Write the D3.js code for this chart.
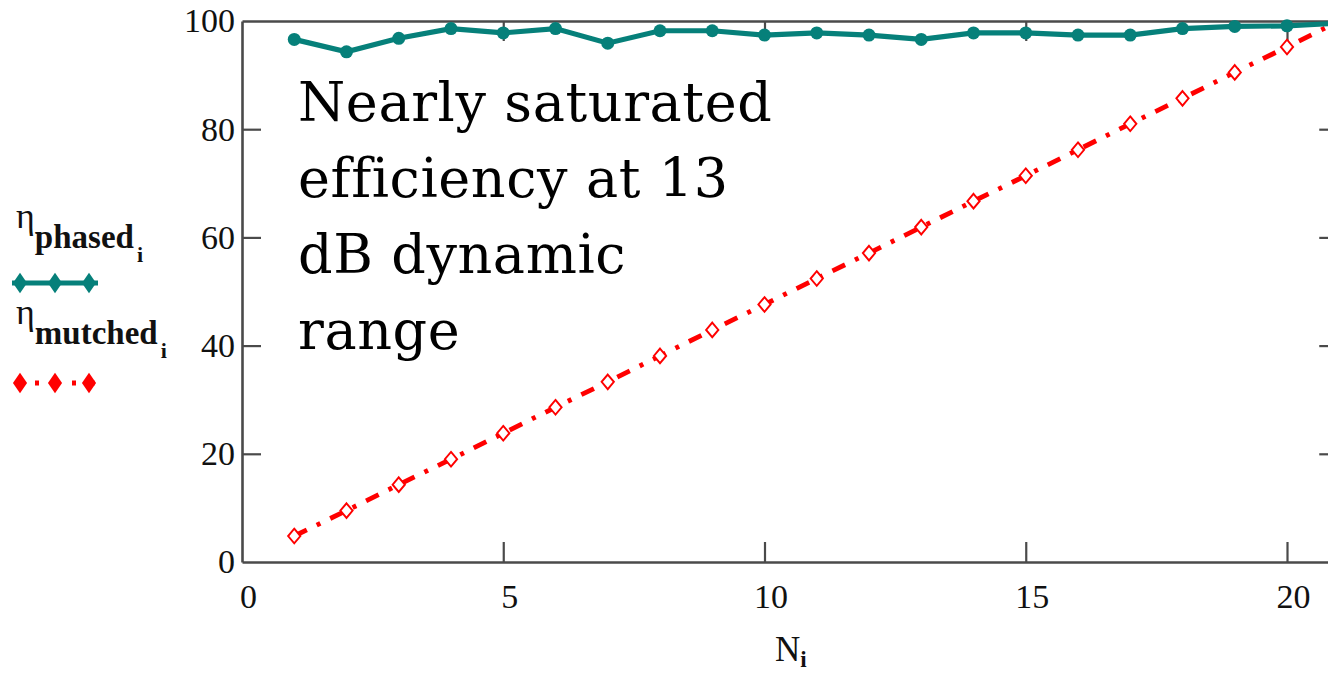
<!DOCTYPE html>
<html>
<head>
<meta charset="utf-8">
<script src="https://cdn.jsdelivr.net/npm/d3@7"></script>
<style>
  html, body { margin: 0; padding: 0; background: #fff; overflow: hidden; }
  svg { display: block; }
</style>
</head>
<body>
<svg id="chart" width="1328" height="674"></svg>
<script>
// Number of elements N in the array
const nValues = [1, 2, 3, 4, 5, 6, 7, 8, 9, 10, 11, 12, 13, 14, 15, 16, 17, 18, 19, 20, 21];
// Efficiency (%) with phased combining
const etaPhased = [96.6, 94.3, 96.8, 98.6, 97.8, 98.6, 95.9, 98.2, 98.2, 97.4, 97.8, 97.4, 96.6, 97.8, 97.8, 97.4, 97.4, 98.6, 99.0, 99.1, 99.6];
// Efficiency (%) with matched combining
const etaMutched = [4.8, 9.5, 14.3, 19.0, 23.8, 28.6, 33.3, 38.1, 42.9, 47.6, 52.4, 57.1, 61.9, 66.7, 71.4, 76.2, 81.0, 85.7, 90.5, 95.2, 100.0];
// Axis ticks
const xTicks = [0, 5, 10, 15, 20];
const yTicks = [0, 20, 40, 60, 80, 100];
// Annotation lines
const noteLines = ["Nearly saturated", "efficiency at 13", "dB dynamic", "range"];

const svg = d3.select("#chart");
const TEAL = "#06807a";
const RED = "#ff0000";
const AXIS = "#4a4a4a";

const plotL = 242, plotR = 242 + 21 * 52.25, plotT = 21, plotB = 562;
const x = d3.scaleLinear().domain([0, 21]).range([plotL, plotR]);
const y = d3.scaleLinear().domain([0, 100]).range([plotB, plotT]);

// ---- frame and axes ----
function styleAxis(g) {
  g.selectAll("path.domain").attr("stroke", AXIS).attr("stroke-width", 2.6);
  g.selectAll(".tick line").attr("stroke", AXIS).attr("stroke-width", 2.2);
  g.selectAll("text")
    .attr("fill", "#111")
    .style("font-family", "'Liberation Serif', 'Times New Roman', serif")
    .style("font-size", "34px");
}

// left axis with labels, ticks pointing inward
svg.append("g")
  .attr("transform", `translate(${plotL},0)`)
  .call(d3.axisLeft(y).tickValues(yTicks).tickSizeInner(-19).tickSizeOuter(0).tickPadding(7))
  .call(styleAxis)
  .call(g => g.selectAll(".tick").filter(d => d === 0 || d === 100).select("line").remove());

// bottom axis with labels
svg.append("g")
  .attr("transform", `translate(0,${plotB})`)
  .call(d3.axisBottom(x).tickValues(xTicks).tickSizeInner(-20).tickSizeOuter(0).tickPadding(22))
  .call(styleAxis)
  .call(g => g.selectAll(".tick").filter(d => d === 0).select("line").remove())
  .call(g => g.selectAll("text").attr("x", 6));

// top border ticks
svg.append("g")
  .attr("transform", `translate(0,${plotT})`)
  .call(d3.axisTop(x).tickValues(xTicks.filter(d => d > 0)).tickSizeInner(-20).tickSizeOuter(0).tickFormat(""))
  .call(styleAxis);

// right border ticks
svg.append("g")
  .attr("transform", `translate(${plotR},0)`)
  .call(d3.axisRight(y).tickValues(yTicks.filter(d => d > 0 && d < 100)).tickSizeInner(-20).tickSizeOuter(0).tickFormat(""))
  .call(styleAxis);

// ---- series ----
const line = d3.line().x((d, i) => x(nValues[i])).y(d => y(d));

svg.append("path")
  .datum(etaMutched)
  .attr("d", line)
  .attr("fill", "none")
  .attr("stroke", RED)
  .attr("stroke-width", 4.8)
  .attr("stroke-dasharray", "14,11,4,11");

const diamond = d3.symbol().type(d3.symbolDiamond).size(62);
svg.append("g").selectAll("path")
  .data(etaMutched)
  .join("path")
  .attr("d", diamond)
  .attr("transform", (d, i) => `translate(${x(nValues[i])},${y(d)}) scale(1.45,1)`)
  .attr("fill", "#fff")
  .attr("stroke", RED)
  .attr("stroke-width", 1.5);

svg.append("path")
  .datum(etaPhased)
  .attr("d", line)
  .attr("fill", "none")
  .attr("stroke", TEAL)
  .attr("stroke-width", 5.2);

svg.append("g").selectAll("circle")
  .data(etaPhased)
  .join("circle")
  .attr("cx", (d, i) => x(nValues[i]))
  .attr("cy", d => y(d))
  .attr("r", 6.5)
  .attr("fill", TEAL);

// ---- axis title ----
const serif = "'Liberation Serif', 'Times New Roman', serif";
const xTitle = svg.append("text")
  .attr("x", 775).attr("y", 661)
  .style("font-family", serif).style("font-size", "35px").attr("fill", "#111");
xTitle.append("tspan").text("N");
xTitle.append("tspan").attr("dy", 6).style("font-size", "23px").style("font-weight", "bold").text("i");

// ---- legend ----
function legendLabel(yBase, name) {
  const t = svg.append("text").attr("x", 16).attr("y", yBase - 20)
    .style("font-family", serif).attr("fill", "#111");
  t.append("tspan").style("font-size", "36px").text("η");
  t.append("tspan").attr("dy", 20).style("font-size", "33px").style("font-weight", "bold").text(name);
  t.append("tspan").attr("dy", 14).attr("dx", 3).style("font-size", "22px").style("font-weight", "bold").text("i");
}
legendLabel(248, "phased");
legendLabel(344, "mutched");

const legendDiamond = d3.symbol().type(d3.symbolDiamond).size(120);
const legendXs = [20, 55, 89];

svg.append("line")
  .attr("x1", 12).attr("x2", 98).attr("y1", 283).attr("y2", 283)
  .attr("stroke", TEAL).attr("stroke-width", 5);
svg.append("g").selectAll("path")
  .data(legendXs).join("path")
  .attr("d", legendDiamond)
  .attr("transform", d => `translate(${d},283) scale(1.2,1)`)
  .attr("fill", TEAL);

svg.append("line")
  .attr("x1", 12).attr("x2", 98).attr("y1", 383).attr("y2", 383)
  .attr("stroke", RED).attr("stroke-width", 5)
  .attr("stroke-dasharray", "4,14.5").attr("stroke-dashoffset", 14);
svg.append("g").selectAll("path")
  .data(legendXs).join("path")
  .attr("d", legendDiamond)
  .attr("transform", d => `translate(${d},383) scale(1.2,1)`)
  .attr("fill", RED);

// ---- annotation ----
svg.append("g").selectAll("text")
  .data(noteLines)
  .join("text")
  .attr("x", 298)
  .attr("y", (d, i) => 121 + i * 76)
  .style("font-family", "'DejaVu Serif', serif")
  .style("font-size", "54px")
  .style("letter-spacing", "0.6px")
  .attr("fill", "#000")
  .text(d => d);
</script>
</body>
</html>
